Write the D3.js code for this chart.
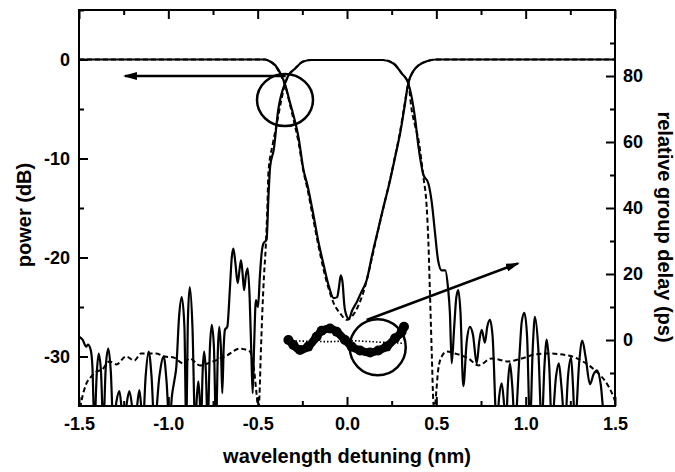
<!DOCTYPE html>
<html>
<head>
<meta charset="utf-8">
<script src="https://cdn.jsdelivr.net/npm/d3@7"></script>
<style>
  body { margin: 0; background: #fff; }
  text { font-family: "Liberation Sans", Arial, sans-serif; font-weight: bold; fill: #000; }
</style>
</head>
<body>
<div id="chart"></div>
<script>
// reflection, measured (solid) : [detuning nm, power dB]
var reflMeasured = [
  [-1.5,-28.0],[-1.48,-28.3],[-1.46,-29.0],[-1.45,-28.8],[-1.435,-29.3],[-1.425,-31],[-1.414,-37],[-1.40,-31.5],[-1.39,-29.7],
  [-1.377,-31.5],[-1.364,-37],[-1.35,-31],[-1.336,-29.2],[-1.322,-31.5],[-1.308,-37],[-1.29,-34.5],[-1.274,-33.5],[-1.26,-35.5],
  [-1.25,-37],[-1.235,-35],[-1.218,-33.5],[-1.20,-35.5],[-1.19,-37],[-1.175,-35],[-1.162,-33.4],[-1.15,-35.5],[-1.143,-37],
  [-1.127,-32],[-1.11,-29.5],[-1.094,-32],[-1.078,-37],[-1.05,-32],[-1.026,-30],[-1.01,-32.5],[-0.994,-37],[-0.98,-34],
  [-0.966,-32.4],[-0.955,-31],[-0.94,-26],[-0.925,-24],[-0.91,-27],[-0.9,-37],[-0.89,-26],[-0.88,-23],[-0.865,-27],[-0.85,-37],
  [-0.84,-34],[-0.832,-32.5],[-0.825,-34],[-0.817,-37],[-0.808,-31.5],[-0.8,-29.5],[-0.79,-31.5],[-0.78,-37],[-0.767,-29],
  [-0.757,-26.8],[-0.745,-29],[-0.733,-37],[-0.722,-29],[-0.715,-27],[-0.705,-29.5],[-0.698,-33.7],[-0.69,-29],[-0.683,-27.3],
  [-0.67,-27],[-0.655,-23],[-0.645,-20],[-0.636,-19.1],[-0.625,-20.5],[-0.612,-22.6],[-0.6,-21],[-0.593,-20.3],[-0.585,-21.5],
  [-0.576,-23.3],[-0.566,-21.8],[-0.556,-21.1],[-0.545,-24],[-0.535,-30],[-0.528,-33.7],[-0.52,-29],[-0.51,-24.3],[-0.498,-25],
  [-0.488,-22],[-0.478,-19.6],[-0.468,-18.6],[-0.45,-18.2],[-0.44,-14],[-0.43,-10.8],[-0.41,-9.1],[-0.385,-5.1],[-0.347,-2.4],
  [-0.33,-1.7],[-0.29,-0.9],[-0.245,-0.2],[-0.2,-0.05],[0.2,-0.05],[0.26,-0.4],[0.306,-1.4],[0.343,-2.4],[0.38,-5.8],[0.4,-8.8],
  [0.427,-11.6],[0.455,-12.5],[0.475,-14.5],[0.492,-17.4],[0.51,-20.3],[0.53,-21.3],[0.55,-21.3],[0.565,-23],[0.576,-25.6],
  [0.586,-30.7],[0.6,-27],[0.612,-24],[0.623,-23.3],[0.635,-25.5],[0.651,-33],[0.67,-28.5],[0.688,-27],[0.705,-27.8],[0.726,-30.7],
  [0.74,-28.5],[0.754,-27.3],[0.772,-28.6],[0.785,-27],[0.8,-26.3],[0.815,-28],[0.838,-37],[0.852,-34],[0.866,-32.7],[0.88,-35],
  [0.89,-37],[0.9,-33],[0.912,-30.7],[0.925,-33],[0.94,-37],[0.965,-30],[0.978,-26.5],[0.993,-25.6],[1.008,-28],[1.024,-37],
  [1.04,-29],[1.052,-26],[1.07,-29],[1.09,-37],[1.105,-31],[1.118,-28.3],[1.132,-31],[1.146,-37],[1.17,-32],[1.186,-30.7],
  [1.2,-33],[1.22,-37],[1.237,-32],[1.254,-30.1],[1.265,-33],[1.276,-37],[1.3,-30.5],[1.317,-28.4],[1.335,-30],[1.36,-32.8],
  [1.38,-31.8],[1.4,-31.4],[1.42,-32.8],[1.444,-37],[1.5,-38]
];
// reflection, simulated (dashed)
var reflSimulated = [
  [-1.5,-36],[-1.485,-34.4],[-1.46,-32.8],[-1.43,-32],[-1.4,-31.5],[-1.37,-31.3],[-1.33,-30.5],[-1.29,-30.8],[-1.237,-30],
  [-1.19,-30.4],[-1.153,-29.7],[-1.07,-29.7],[-1.02,-30],[-0.97,-30.1],[-0.916,-30.7],[-0.88,-30.2],[-0.823,-30.9],[-0.75,-30.5],
  [-0.673,-29.9],[-0.6,-29.2],[-0.543,-29.5],[-0.52,-31.4],[-0.505,-34],[-0.496,-35.5],[-0.49,-34],[-0.483,-30],[-0.475,-26],
  [-0.465,-22],[-0.455,-19],[-0.445,-14.5],[-0.44,-11.5],[-0.415,-8.5],[-0.393,-6.5],[-0.37,-4.3],[-0.347,-2.5],[-0.33,-1.7],
  [-0.29,-0.9],[-0.245,-0.2],[-0.2,-0.05],[0.2,-0.05],[0.26,-0.4],[0.306,-1.4],[0.343,-2.4],[0.362,-5.1],[0.38,-6.6],[0.4,-8.1],
  [0.427,-11.8],[0.446,-14.9],[0.455,-18.2],[0.465,-24],[0.475,-30],[0.483,-34.5],[0.49,-35.5],[0.5,-33.5],[0.51,-31.4],
  [0.53,-30],[0.558,-29.5],[0.605,-29.7],[0.68,-30.2],[0.735,-30.9],[0.81,-30.2],[0.903,-30.5],[0.978,-30.2],[1.052,-29.8],
  [1.127,-29.7],[1.24,-29.9],[1.32,-30.5],[1.388,-31.4],[1.463,-33],[1.49,-34],[1.5,-34.5]
];
// transmission, measured (solid)
var transMeasured = [
  [-1.5,0],[-0.46,0],[-0.43,-0.2],[-0.40,-0.6],[-0.37,-1.5],[-0.345,-2.6],[-0.32,-4.3],[-0.30,-5.6],[-0.27,-8.0],[-0.245,-11.0],
  [-0.22,-12.8],[-0.19,-15.5],[-0.16,-18.4],[-0.13,-20.8],[-0.10,-23.0],[-0.075,-24.1],[-0.055,-24.0],[-0.045,-23],[-0.035,-21.8],
  [-0.025,-22.5],[-0.015,-24.8],[0.0,-26.0],[0.01,-26.2],[0.03,-25.3],[0.055,-24.5],[0.08,-23.5],[0.11,-22.3],[0.14,-19.8],
  [0.17,-17.5],[0.2,-15.2],[0.24,-12.3],[0.27,-9.8],[0.30,-7.2],[0.32,-5.0],[0.343,-2.4],[0.37,-1.2],[0.40,-0.6],[0.45,-0.15],
  [0.5,0],[1.5,0]
];
// transmission, simulated (dashed)
var transSimulated = [
  [-1.5,0],[-0.46,0],[-0.43,-0.2],[-0.40,-0.7],[-0.37,-1.6],[-0.345,-2.7],[-0.32,-4.5],[-0.30,-6.0],[-0.27,-8.5],[-0.245,-11.2],
  [-0.22,-13.2],[-0.19,-16],[-0.16,-18.8],[-0.13,-21.3],[-0.10,-23.3],[-0.07,-24.8],[-0.04,-25.6],[0,-26.3],[0.03,-25.9],
  [0.06,-25],[0.09,-23.6],[0.12,-21.6],[0.15,-19.2],[0.18,-16.8],[0.21,-14.5],[0.24,-12.2],[0.27,-9.7],[0.30,-7],[0.32,-4.8],
  [0.343,-2.4],[0.37,-1.2],[0.40,-0.6],[0.45,-0.15],[0.5,0],[1.5,0]
];
// group delay (ps), measured (dots) and simulated (dotted)
var delayMeasured = [
  [-0.328,0],[-0.3,-1.5],[-0.263,-3],[-0.217,-2],[-0.17,1],[-0.142,2.8],[-0.095,3.5],[-0.058,2.5],[-0.011,0],[0.026,-2],
  [0.073,-3.2],[0.129,-3.8],[0.175,-3.2],[0.222,-2],[0.269,0.5],[0.306,2.5],[0.319,4]
];
var delaySimulated = [[-0.347,-0.2],[-0.2,-0.4],[-0.095,-0.5],[0.017,-0.2],[0.1,-0.4],[0.2,-0.7],[0.32,-1.0]];

// axes
var xTicksMajor = [-1.5,-1.0,-0.5,0.0,0.5,1.0,1.5];
var xTicksMinor = [-1.25,-0.75,-0.25,0.25,0.75,1.25];
var yLeftMajor = [0,-10,-20,-30];
var yLeftMinor = [5,-5,-15,-25];
var yRightMajor = [0,20,40,60,80];
var yRightMinor = [-10,10,30,50,70,90];

// annotations (in data coords)
var circleNotes = [
  {x:-0.347, y:-4.1, axis:"left", rx:28, ry:26},
  {x:0.172, y:-2.2, axis:"right", rx:28, ry:28}
];
var arrowNotes = [
  {x1:-0.343, y1:-1.67, x2:-1.243, y2:-1.67, axis:"left"},
  {x1:0.11, y1:6.06, x2:0.957, y2:23.2, axis:"right"}
];

var W = 675, H = 472;
var margin = {top: 10, right: 60, bottom: 66, left: 79};
var plotTop = margin.top, plotBottom = H - margin.bottom;
var plotLeft = margin.left, plotRight = W - margin.right;

var svg = d3.select("#chart").append("svg")
  .attr("width", W).attr("height", H);

var x = d3.scaleLinear().domain([-1.5, 1.5]).range([plotLeft, plotRight]);
var yL = d3.scaleLinear().domain([-35, 5]).range([plotBottom, plotTop]);
var yR = d3.scaleLinear().domain([-20, 100]).range([plotBottom, plotTop]);

var defs = svg.append("defs");
defs.append("clipPath").attr("id", "plotclip")
  .append("rect")
  .attr("x", plotLeft).attr("y", plotTop)
  .attr("width", plotRight - plotLeft)
  .attr("height", plotBottom - plotTop);

defs.append("marker")
  .attr("id", "head")
  .attr("markerUnits", "userSpaceOnUse")
  .attr("viewBox", "0 0 14 8")
  .attr("refX", 12).attr("refY", 4)
  .attr("markerWidth", 14).attr("markerHeight", 8)
  .attr("orient", "auto")
  .append("path").attr("d", "M0,0 L14,4 L0,8 Z").attr("fill", "#000");

var plot = svg.append("g").attr("clip-path", "url(#plotclip)");

var lineL = d3.line().x(d => x(d[0])).y(d => yL(d[1])).curve(d3.curveMonotoneX);
var lineR = d3.line().x(d => x(d[0])).y(d => yR(d[1])).curve(d3.curveMonotoneX);

function draw(data, line, dash, width) {
  plot.append("path")
    .datum(data)
    .attr("d", line)
    .attr("fill", "none")
    .attr("stroke", "#000")
    .attr("stroke-width", width)
    .attr("stroke-dasharray", dash)
    .attr("stroke-linejoin", "round");
}

draw(reflSimulated, lineL, "5,3", 2);
draw(transSimulated, lineL, "5,3", 2);
draw(reflMeasured, lineL, null, 2.2);
draw(transMeasured, lineL, null, 2.2);
draw(delaySimulated, lineR, "1.5,2", 1.6);

// measured group delay: thick dotted trace
plot.append("path")
  .datum(delayMeasured)
  .attr("d", lineR)
  .attr("fill", "none")
  .attr("stroke", "#000")
  .attr("stroke-width", 8)
  .attr("stroke-linecap", "round");
plot.selectAll("circle.gd")
  .data(delayMeasured)
  .enter().append("circle")
  .attr("class", "gd")
  .attr("cx", d => x(d[0]))
  .attr("cy", d => yR(d[1]))
  .attr("r", 5)
  .attr("fill", "#000");

// circles and arrows
svg.selectAll("ellipse.note")
  .data(circleNotes)
  .enter().append("ellipse")
  .attr("class", "note")
  .attr("cx", d => x(d.x))
  .attr("cy", d => (d.axis === "left" ? yL : yR)(d.y))
  .attr("rx", d => d.rx).attr("ry", d => d.ry)
  .attr("fill", "none").attr("stroke", "#000").attr("stroke-width", 2.5);

svg.selectAll("line.arrow")
  .data(arrowNotes)
  .enter().append("line")
  .attr("class", "arrow")
  .attr("x1", d => x(d.x1))
  .attr("y1", d => (d.axis === "left" ? yL : yR)(d.y1))
  .attr("x2", d => x(d.x2))
  .attr("y2", d => (d.axis === "left" ? yL : yR)(d.y2))
  .attr("stroke", "#000").attr("stroke-width", 2.5)
  .attr("marker-end", "url(#head)");

// axes
function styleAxis(g) {
  g.select(".domain").remove();
  g.selectAll(".tick line").attr("stroke", "#000").attr("stroke-width", 2);
  g.selectAll(".tick text").style("font-size", "18px");
}
// plain hyphen for negatives, like the original
var fmtX = d => d3.format(".1f")(d).replace("\u2212", "-");
var fmtY = d => d3.format("d")(d).replace("\u2212", "-");

svg.append("g").attr("transform", `translate(0,${plotBottom})`)
  .call(d3.axisBottom(x).tickValues(xTicksMajor).tickSize(-9).tickPadding(11).tickFormat(fmtX))
  .call(styleAxis);
svg.append("g").attr("transform", `translate(0,${plotBottom})`)
  .call(d3.axisBottom(x).tickValues(xTicksMinor).tickSize(-5).tickFormat(""))
  .call(styleAxis);
svg.append("g").attr("transform", `translate(0,${plotTop})`)
  .call(d3.axisTop(x).tickValues(xTicksMajor).tickSize(-9).tickFormat(""))
  .call(styleAxis);
svg.append("g").attr("transform", `translate(0,${plotTop})`)
  .call(d3.axisTop(x).tickValues(xTicksMinor).tickSize(-5).tickFormat(""))
  .call(styleAxis);

svg.append("g").attr("transform", `translate(${plotLeft},0)`)
  .call(d3.axisLeft(yL).tickValues(yLeftMajor).tickSize(-9).tickPadding(9).tickFormat(fmtY))
  .call(styleAxis);
svg.append("g").attr("transform", `translate(${plotLeft},0)`)
  .call(d3.axisLeft(yL).tickValues(yLeftMinor).tickSize(-5).tickFormat(""))
  .call(styleAxis);

svg.append("g").attr("transform", `translate(${plotRight},0)`)
  .call(d3.axisRight(yR).tickValues(yRightMajor).tickSize(-9).tickPadding(8).tickFormat(fmtY))
  .call(styleAxis);
svg.append("g").attr("transform", `translate(${plotRight},0)`)
  .call(d3.axisRight(yR).tickValues(yRightMinor).tickSize(-5).tickFormat(""))
  .call(styleAxis);

// frame
svg.append("rect")
  .attr("x", plotLeft).attr("y", plotTop)
  .attr("width", plotRight - plotLeft)
  .attr("height", plotBottom - plotTop)
  .attr("fill", "none").attr("stroke", "#000").attr("stroke-width", 2);

// titles
svg.append("text")
  .attr("x", (plotLeft + plotRight) / 2).attr("y", 463)
  .attr("text-anchor", "middle").style("font-size", "20px")
  .text("wavelength detuning (nm)");
svg.append("text")
  .attr("transform", `translate(31,${(plotTop + plotBottom) / 2 + 7}) rotate(-90)`)
  .attr("text-anchor", "middle").style("font-size", "20px")
  .text("power (dB)");
svg.append("text")
  .attr("transform", `translate(658,${(plotTop + plotBottom) / 2 + 19}) rotate(90)`)
  .attr("text-anchor", "middle").style("font-size", "20px")
  .text("relative group delay (ps)");
</script>
</body>
</html>
